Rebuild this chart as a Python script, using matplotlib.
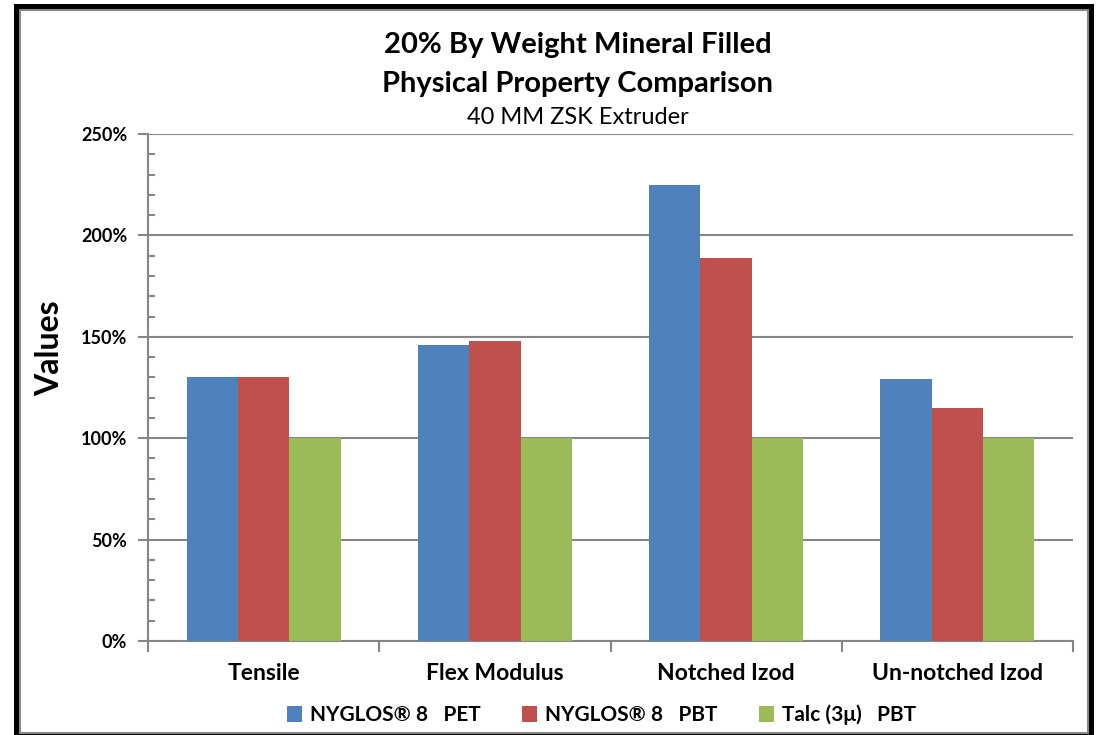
import numpy as np
import matplotlib.pyplot as plt
from matplotlib.patches import Rectangle
from matplotlib.ticker import MultipleLocator, PercentFormatter

plt.rcParams['font.family'] = ['Lato', 'DejaVu Sans']

categories = ['Tensile', 'Flex Modulus', 'Notched Izod', 'Un-notched Izod']
series_names = ['NYGLOS\u00ae 8   PET', 'NYGLOS\u00ae 8   PBT', 'Talc (3\u03bc)   PBT']
nyglos_pet = [130, 146, 225, 129]
nyglos_pbt = [130, 148, 189, 115]
talc_pbt = [100, 100, 100, 100]
colors = ['#4F81BD', '#C0504D', '#9BBB59']

W, H = 1097, 735
fig = plt.figure(figsize=(W / 100, H / 100), dpi=100)

# frame: thick black border with a thin grey inner line
fig.patches.append(Rectangle((14 / W, 0), 1080 / W, 731 / H, transform=fig.transFigure,
                             facecolor='black', edgecolor='none', zorder=-2))
fig.patches.append(Rectangle((20 / W, 2 / H), 1068 / W, 723 / H, transform=fig.transFigure,
                             facecolor='white', edgecolor='#888888', linewidth=1.5, zorder=-1))

ax = fig.add_axes([148 / W, (H - 641) / H, 925 / W, 507 / H])
ax.set_facecolor('none')

x = np.arange(len(categories))
bw = 0.222
for i, vals in enumerate([nyglos_pet, nyglos_pbt, talc_pbt]):
    ax.bar(x + (i - 1) * bw, vals, width=bw, color=colors[i], label=series_names[i], zorder=3)

ax.set_xlim(-0.5, len(categories) - 0.5)
ax.set_ylim(0, 250)
ax.yaxis.set_major_locator(MultipleLocator(50))
ax.yaxis.set_minor_locator(MultipleLocator(10))
ax.yaxis.set_major_formatter(PercentFormatter(decimals=0))
ax.grid(axis='y', which='major', color='#868686', linewidth=1.5, zorder=0)

for s in ['top', 'right']:
    ax.spines[s].set_visible(False)
for s in ['left', 'bottom']:
    ax.spines[s].set_color('#868686')
    ax.spines[s].set_linewidth(1.5)

ax.tick_params(axis='y', which='major', direction='out', length=7, width=1.5, color='#868686',
               labelsize=13, pad=8)
ax.tick_params(axis='y', which='minor', direction='in', length=5, width=1.5, color='#868686')
for lbl in ax.get_yticklabels():
    lbl.set_fontweight('bold')

# category boundary ticks
ax.set_xticks(np.arange(len(categories) + 1) - 0.5)
ax.set_xticklabels([])
ax.set_xticks(x, minor=True)
ax.set_xticklabels(categories, minor=True, fontsize=16.5, fontweight='bold')
ax.tick_params(axis='x', which='major', direction='out', length=8, width=1.5, color='#868686')
ax.tick_params(axis='x', which='minor', length=0, pad=16)

ax.set_ylabel('Values', fontsize=23, fontweight='bold')
ax.yaxis.set_label_coords(-0.091, 0.578)

fig.text(0.5265, 1 - 45 / H, '20% By Weight Mineral Filled', ha='center', va='center',
         fontsize=21, fontweight='bold')
fig.text(0.5265, 1 - 84 / H, 'Physical Property Comparison', ha='center', va='center',
         fontsize=21, fontweight='bold')
fig.text(0.5265, 1 - 118 / H, '40 MM ZSK Extruder', ha='center', va='center', fontsize=17)

fig.legend(loc='center', bbox_to_anchor=(0.548, 1 - 715 / H), ncol=3, frameon=False,
           prop={'size': 15, 'weight': 'bold'}, handlelength=0.75, handleheight=0.75,
           handletextpad=0.35, columnspacing=2.0)

fig.savefig('out.png', dpi=100)
